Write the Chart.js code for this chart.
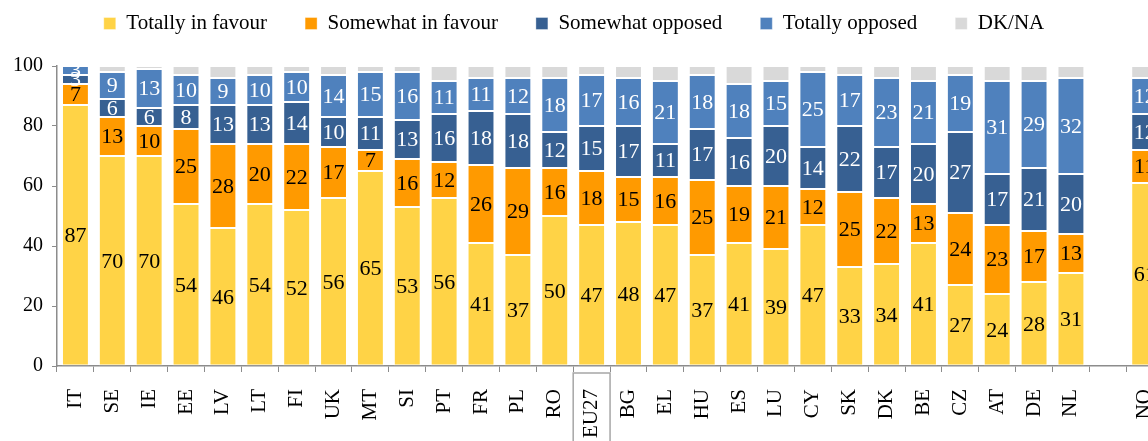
<!DOCTYPE html>
<html>
<head>
<meta charset="utf-8">
<script src="https://cdn.jsdelivr.net/npm/chart.js@4.4.1/dist/chart.umd.min.js"></script>
<style>
html,body{margin:0;padding:0;background:#ffffff;overflow:hidden;}
canvas{display:block;}
</style>
</head>
<body>
<canvas id="chart" width="1148" height="441"></canvas>
<script>
// ---- data ----
const categories = ['IT','SE','IE','EE','LV','LT','FI','UK','MT','SI','PT','FR','PL','RO','EU27','BG','EL','HU','ES','LU','CY','SK','DK','BE','CZ','AT','DE','NL','','NO'];
const totallyInFavour  = [87,70,70,54,46,54,52,56,65,53,56,41,37,50,47,48,47,37,41,39,47,33,34,41,27,24,28,31,null,61];
const somewhatInFavour = [7,13,10,25,28,20,22,17,7,16,12,26,29,16,18,15,16,25,19,21,12,25,22,13,24,23,17,13,null,11];
const somewhatOpposed  = [3,6,6,8,13,13,14,10,11,13,16,18,18,12,15,17,11,17,16,20,14,22,17,20,27,17,21,20,null,12];
const totallyOpposed   = [3,9,13,10,9,10,10,14,15,16,11,11,12,18,17,16,21,18,18,15,25,17,23,21,19,31,29,32,null,12];
const dkNa             = [0,2,1,3,4,3,2,3,2,2,5,4,4,4,3,4,5,3,6,5,2,3,4,5,3,5,5,4,null,4];
const seriesNames = ['Totally in favour','Somewhat in favour','Somewhat opposed','Totally opposed','DK/NA'];
const yTickValues = [0,20,40,60,80,100];
const highlightedCategory = 'EU27';

// ---- style ----
const seriesColors = ['#FFD346','#FF9A00','#376092','#4F81BD','#D9D9D9'];
const labelColors  = ['#000000','#000000','#ffffff','#ffffff',null];
const FONT = "'Liberation Serif','Times New Roman',serif";
const VISIBLE_SLOTS = 29.59;   // the chart continues past the right edge of the picture

const seriesValues = [totallyInFavour, somewhatInFavour, somewhatOpposed, totallyOpposed, dkNa];

const valueLabels = {
  id: 'valueLabels',
  afterDatasetsDraw(chart) {
    const ctx = chart.ctx;
    ctx.save();
    ctx.font = '22px ' + FONT;
    ctx.textAlign = 'center';
    ctx.textBaseline = 'middle';
    chart.data.datasets.forEach((ds, di) => {
      if (!labelColors[di]) return;
      const meta = chart.getDatasetMeta(di);
      meta.data.forEach((bar, i) => {
        const v = ds.data[i];
        if (v === null || v === undefined) return;
        ctx.fillStyle = labelColors[di];
        ctx.fillText(String(v), bar.x, (bar.y + bar.base) / 2 + 1);
      });
    });
    ctx.restore();
  }
};

const highlightBox = {
  id: 'highlightBox',
  afterDraw(chart) {
    const xs = chart.scales.x;
    const i = categories.indexOf(highlightedCategory);
    const cx = xs.getPixelForValue(i);
    const half = (xs.getPixelForValue(1) - xs.getPixelForValue(0)) / 2;
    const ctx = chart.ctx;
    ctx.save();
    ctx.strokeStyle = '#a6a6a6';
    ctx.lineWidth = 1.5;
    ctx.strokeRect(cx - half, xs.top + 7, 2 * half, chart.height);
    ctx.restore();
  }
};

const legendSpacer = {
  id: 'legendSpacer',
  beforeInit(chart) {
    const origFit = chart.legend.fit;
    chart.legend.fit = function () {
      origFit.call(this);
      this.height += 22;
    };
  }
};

new Chart(document.getElementById('chart'), {
  type: 'bar',
  data: {
    labels: categories,
    datasets: seriesNames.map((name, k) => ({
      label: name,
      data: seriesValues[k],
      backgroundColor: seriesColors[k],
      borderColor: 'rgba(255,255,255,0.35)',
      borderWidth: 1,
      borderSkipped: false
    }))
  },
  options: {
    responsive: false,
    animation: false,
    devicePixelRatio: 1,
    layout: { padding: { top: -25, left: 0, right: 0, bottom: 0 } },
    datasets: { bar: { barPercentage: 0.73, categoryPercentage: 1 } },
    plugins: {
      legend: {
        position: 'top',
        labels: {
          font: { family: FONT, size: 21 },
          color: '#000000',
          boxWidth: 12,
          boxHeight: 12,
          padding: 38
        }
      },
      tooltip: { enabled: false }
    },
    scales: {
      x: {
        stacked: true,
        offset: true,
        afterBuildTicks(s) { s._valueRange = VISIBLE_SLOTS; },
        afterFit(s) { s.height = 75; s.paddingLeft = 0; s.paddingRight = 0; },
        grid: { offset: true, drawOnChartArea: false, drawTicks: true, tickLength: 6, color: '#8c8c8c', lineWidth: 1 },
        border: { color: '#8c8c8c', width: 1.5 },
        ticks: { autoSkip: false, maxRotation: 90, minRotation: 90, padding: 17, color: '#000000', font: { family: FONT, size: 21 } }
      },
      y: {
        stacked: true,
        min: 0,
        max: 100,
        afterBuildTicks(s) { s.ticks = yTickValues.map(v => ({ value: v })); },
        afterFit(s) { s.width = 57; },
        grid: { drawOnChartArea: false, drawTicks: true, tickLength: 5, color: '#8c8c8c' },
        border: { color: '#8c8c8c', width: 1.5 },
        ticks: { padding: 9, color: '#000000', font: { family: FONT, size: 20 } }
      }
    }
  },
  plugins: [legendSpacer, valueLabels, highlightBox]
});
</script>
</body>
</html>
